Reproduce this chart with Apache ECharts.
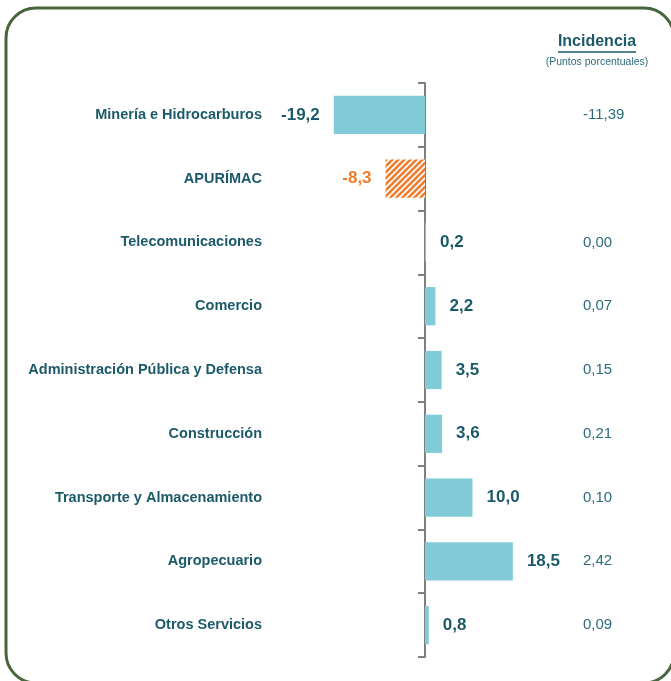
<!DOCTYPE html>
<html>
<head>
<meta charset="utf-8">
<script src="https://cdn.jsdelivr.net/npm/echarts@6/dist/echarts.min.js"></script>
<style>
  html, body { margin: 0; padding: 0; background: #fff; }
  #chart { width: 671px; height: 681px; }
</style>
</head>
<body>
<div id="chart"></div>
<script>
// datos
const sectores = [
  'Minería e Hidrocarburos',
  'APURÍMAC',
  'Telecomunicaciones',
  'Comercio',
  'Administración Pública y Defensa',
  'Construcción',
  'Transporte y Almacenamiento',
  'Agropecuario',
  'Otros Servicios'
]
const variacion = [-19.2, -8.3, 0.2, 2.2, 3.5, 3.6, 10.0, 18.5, 0.8]
const incidencia = [-11.39, null, 0.00, 0.07, 0.15, 0.21, 0.10, 2.42, 0.09]

const tealText = '#1c5a69'
const barColor = '#80cbd7'
const orange = '#ef7d2d'
const labelFont = '"Liberation Sans Narrow", sans-serif'

// trama rayada para el total regional
function hatch() {
  const c = document.createElement('canvas')
  c.width = 6
  c.height = 6
  const ctx = c.getContext('2d')
  ctx.fillStyle = '#fff'
  ctx.fillRect(0, 0, 6, 6)
  ctx.strokeStyle = orange
  ctx.lineWidth = 2.6
  ctx.beginPath()
  ctx.moveTo(-1, 7); ctx.lineTo(7, -1)
  ctx.moveTo(-4, 4); ctx.lineTo(4, -4)
  ctx.moveTo(2, 10); ctx.lineTo(10, 2)
  ctx.stroke()
  return c
}

const fmt1 = (v) => v.toFixed(1).replace('.', ',')
const fmt2 = (v) => (v == null ? '' : v.toFixed(2).replace('.', ','))

const chart = echarts.init(document.getElementById('chart'))

chart.setOption({
  animation: false,
  grid: {
    left: 330, width: 190, top: 83, bottom: 24,
    containLabel: false, outerBoundsMode: 'none'
  },
  xAxis: {
    type: 'value', min: -20, max: 20, show: false
  },
  yAxis: [
    {
      type: 'category',
      inverse: true,
      data: sectores,
      axisLine: { onZero: true, lineStyle: { color: '#7f7f7f', width: 2 } },
      axisTick: { show: true, length: 7, lineStyle: { color: '#7f7f7f', width: 2 } },
      axisLabel: {
        margin: 68,
        color: tealText,
        fontFamily: labelFont,
        fontWeight: 'bold',
        fontSize: 14.5
      }
    },
    {
      type: 'category',
      inverse: true,
      position: 'right',
      data: sectores,
      axisLine: { show: false },
      axisTick: { show: false },
      axisLabel: {
        margin: 63,
        align: 'left',
        color: '#2c6b7b',
        fontFamily: labelFont,
        fontSize: 15,
        formatter: (v, i) => fmt2(incidencia[i])
      }
    }
  ],
  series: [{
    type: 'bar',
    barWidth: '60%',
    data: variacion.map((v, i) => {
      const d = {
        value: v,
        label: { position: v < 0 ? 'left' : 'right' }
      }
      if (i === 1) {
        d.itemStyle = { color: { image: hatch(), repeat: 'repeat' } }
        d.label.color = orange
      }
      return d
    }),
    itemStyle: { color: barColor },
    label: {
      show: true,
      distance: 14,
      color: tealText,
      fontFamily: labelFont,
      fontWeight: 'bold',
      fontSize: 17,
      formatter: (p) => fmt1(p.value)
    }
  }],
  graphic: [
    {
      type: 'rect',
      shape: { x: 6, y: 8, width: 668, height: 675, r: 30 },
      style: { fill: null, stroke: '#47663b', lineWidth: 3 },
      silent: true
    },
    {
      type: 'text',
      x: 597, y: 42,
      style: {
        text: 'Incidencia', fill: tealText, font: 'bold 16px ' + labelFont,
        align: 'center', verticalAlign: 'middle'
      }
    },
    {
      type: 'line',
      shape: { x1: 558, y1: 52, x2: 636, y2: 52 },
      style: { stroke: tealText, lineWidth: 1.5 }
    },
    {
      type: 'text',
      x: 597, y: 62,
      style: {
        text: '(Puntos porcentuales)', fill: '#2c6b7b', font: '10.5px ' + labelFont,
        align: 'center', verticalAlign: 'middle'
      }
    }
  ]
})
</script>
</body>
</html>
